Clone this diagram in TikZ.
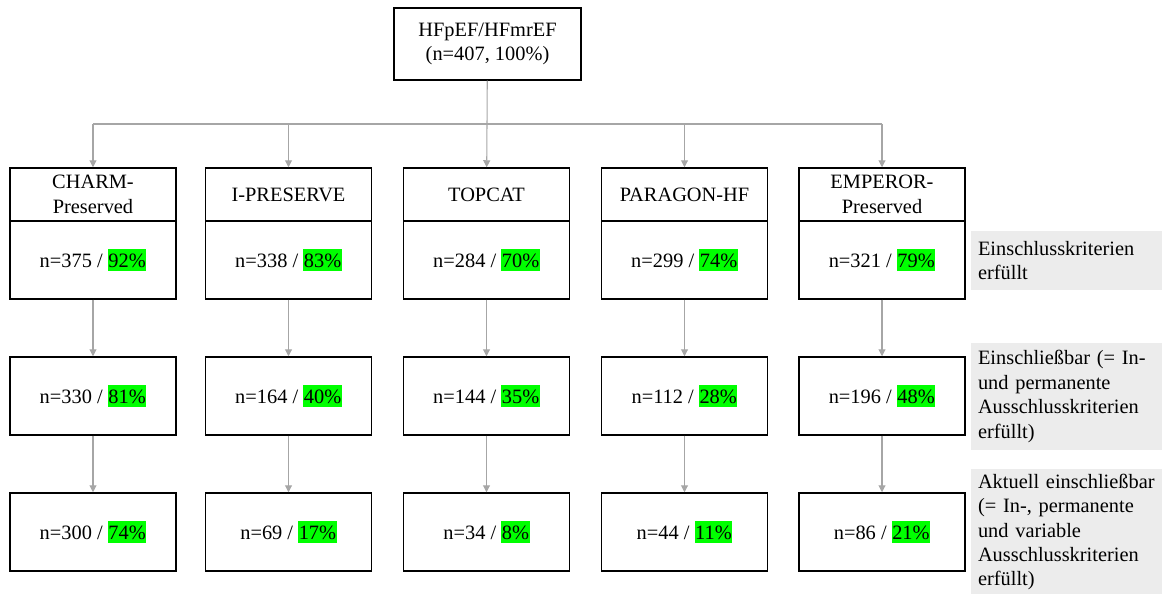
\documentclass[tikz,border=0pt]{standalone}
\usepackage{fontspec}
\setmainfont{Liberation Serif}
\usepackage{tikz}
\usetikzlibrary{arrows.meta}
\definecolor{hl_green}{RGB}{0, 255, 0}
\definecolor{ln_gray}{RGB}{166, 166, 166}
\definecolor{lbl_gray}{RGB}{236, 236, 236}
\newcommand{\hlg}[1]{{\setlength{\fboxsep}{0pt}\colorbox{hl_green}{\kern0.3pt\rule[-2pt]{0pt}{12.8pt}#1\kern0.3pt}}}
\tikzstyle{bx}=[rectangle,draw=black,line width=0.85pt,inner sep=0pt,
  minimum width=3.32cm,align=center,font=\fontsize{11.6}{13.9}\selectfont]
\tikzstyle{hd}=[style=bx,minimum height=1.06cm]
\tikzstyle{dt}=[style=bx,minimum height=1.56cm]
\tikzstyle{lb}=[rectangle,fill=lbl_gray,inner xsep=0.14cm,inner ysep=0pt,
  text width=3.54cm,align=left,font=\fontsize{11.6}{13.9}\selectfont]
\tikzstyle{gl}=[draw=ln_gray,line width=0.6pt]
\tikzstyle{ga}=[style=gl,-{Triangle[length=1.4mm,width=1.4mm]}]
\tikzstyle{none}=[inner sep=0pt]

\begin{document}
\begin{tikzpicture}[x=0.02cm, y=-0.02cm]
    \useasboundingbox (0, 0) rectangle (1166, 594);
            \node [style=bx, minimum width=3.74cm, minimum height=1.44cm] (0) at (487.5, 44) {HFpEF/HFmrEF\\(n=407, 100\%)};
            \node [style=hd] (1) at (93, 194.5) {CHARM-\\Preserved};
            \node [style=hd] (2) at (288.5, 194.5) {I-PRESERVE};
            \node [style=hd] (3) at (486.5, 194.5) {TOPCAT};
            \node [style=hd] (4) at (684.5, 194.5) {PARAGON-HF};
            \node [style=hd] (5) at (882, 194.5) {EMPEROR-\\Preserved};
            \node [style=dt] (6) at (93, 260) {n=375 / \hlg{92\%}};
            \node [style=dt] (7) at (288.5, 260) {n=338 / \hlg{83\%}};
            \node [style=dt] (8) at (486.5, 260) {n=284 / \hlg{70\%}};
            \node [style=dt] (9) at (684.5, 260) {n=299 / \hlg{74\%}};
            \node [style=dt] (10) at (882, 260) {n=321 / \hlg{79\%}};
            \node [style=dt] (11) at (93, 396) {n=330 / \hlg{81\%}};
            \node [style=dt] (12) at (288.5, 396) {n=164 / \hlg{40\%}};
            \node [style=dt] (13) at (486.5, 396) {n=144 / \hlg{35\%}};
            \node [style=dt] (14) at (684.5, 396) {n=112 / \hlg{28\%}};
            \node [style=dt] (15) at (882, 396) {n=196 / \hlg{48\%}};
            \node [style=dt] (16) at (93, 532) {n=300 / \hlg{74\%}};
            \node [style=dt] (17) at (288.5, 532) {n=69 / \hlg{17\%}};
            \node [style=dt] (18) at (486.5, 532) {n=34 / \hlg{8\%}};
            \node [style=dt] (19) at (684.5, 532) {n=44 / \hlg{11\%}};
            \node [style=dt] (20) at (882, 532) {n=86 / \hlg{21\%}};
            \node [style=lb, minimum height=1.18cm] (21) at (1066.5, 260.5) {Einschlusskriterien\\erfüllt};
            \node [style=lb, minimum height=2.14cm] (22) at (1066.5, 396.5) {Einschließbar (= In-\\und permanente\\Ausschlusskriterien\\erfüllt)};
            \node [style=lb, minimum height=2.54cm] (23) at (1066.5, 532) {Aktuell einschließbar\\(= In-, permanente\\und variable\\Ausschlusskriterien\\erfüllt)};
            \node [style=none] (24) at (93, 124) {};
            \node [style=none] (25) at (288.5, 124) {};
            \node [style=none] (26) at (487, 124) {};
            \node [style=none] (27) at (684.5, 124) {};
            \node [style=none] (28) at (882, 124) {};
            \draw [style=gl] (0) to (26.center);
            \draw [style=gl] (24.center) to (28.center);
            \draw [style=ga] (24.center) to (1);
            \draw [style=ga] (25.center) to (2);
            \draw [style=ga] (26.center) to (3);
            \draw [style=ga] (27.center) to (4);
            \draw [style=ga] (28.center) to (5);
            \draw [style=ga] (6) to (11);
            \draw [style=ga] (7) to (12);
            \draw [style=ga] (8) to (13);
            \draw [style=ga] (9) to (14);
            \draw [style=ga] (10) to (15);
            \draw [style=ga] (11) to (16);
            \draw [style=ga] (12) to (17);
            \draw [style=ga] (13) to (18);
            \draw [style=ga] (14) to (19);
            \draw [style=ga] (15) to (20);
    \end{tikzpicture}
\end{document}
